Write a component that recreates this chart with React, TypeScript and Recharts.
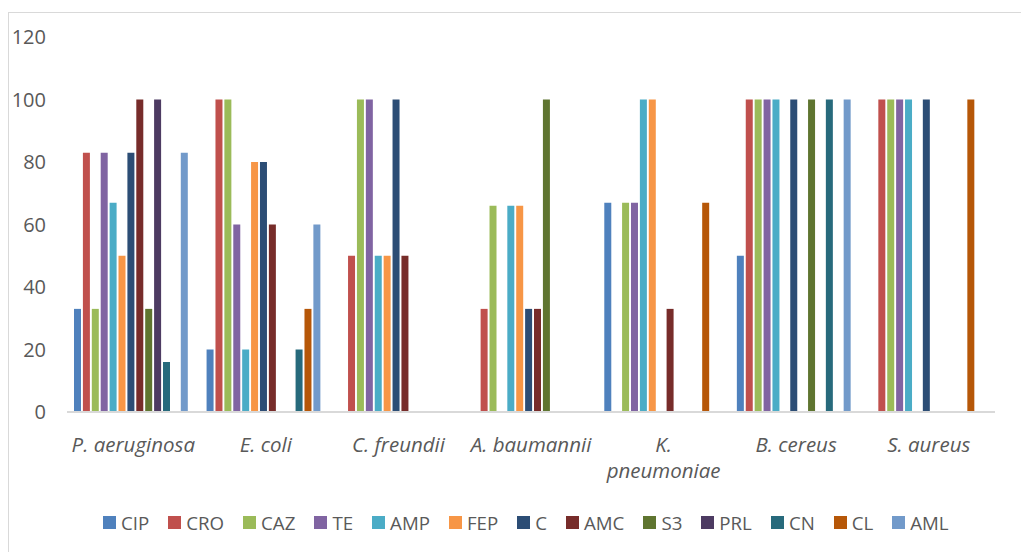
import React from 'react';
import { BarChart, Bar, XAxis, YAxis, Legend } from 'recharts';

const categories = ['P. aeruginosa', 'E. coli', 'C. freundii', 'A. baumannii', 'K. pneumoniae', 'B. cereus', 'S. aureus'];
// how each category label is broken into lines under the axis
const categoryLines = [['P. aeruginosa'], ['E. coli'], ['C. freundii'], ['A. baumannii'], ['K.', 'pneumoniae'], ['B. cereus'], ['S. aureus']];
const yTicks = [0, 20, 40, 60, 80, 100, 120];

const CIP = [33, 20, 0, 0, 67, 50, 0];
const CRO = [83, 100, 50, 33, 0, 100, 100];
const CAZ = [33, 100, 100, 66, 67, 100, 100];
const TE = [83, 60, 100, 0, 67, 100, 100];
const AMP = [67, 20, 50, 66, 100, 100, 100];
const FEP = [50, 80, 50, 66, 100, 0, 0];
const C = [83, 80, 100, 33, 0, 100, 100];
const AMC = [100, 60, 50, 33, 33, 0, 0];
const S3 = [33, 0, 0, 100, 0, 100, 0];
const PRL = [100, 0, 0, 0, 0, 0, 0];
const CN = [16, 20, 0, 0, 0, 100, 0];
const CL = [0, 33, 0, 0, 67, 0, 100];
const AML = [83, 60, 0, 0, 0, 100, 0];

const series = [
  { key: 'CIP', values: CIP, color: '#4F81BD' },
  { key: 'CRO', values: CRO, color: '#C0504D' },
  { key: 'CAZ', values: CAZ, color: '#9BBB59' },
  { key: 'TE', values: TE, color: '#8064A2' },
  { key: 'AMP', values: AMP, color: '#4BACC6' },
  { key: 'FEP', values: FEP, color: '#F79646' },
  { key: 'C', values: C, color: '#2C4D75' },
  { key: 'AMC', values: AMC, color: '#772C2A' },
  { key: 'S3', values: S3, color: '#5F7530' },
  { key: 'PRL', values: PRL, color: '#4D3B62' },
  { key: 'CN', values: CN, color: '#276A7C' },
  { key: 'CL', values: CL, color: '#B65708' },
  { key: 'AML', values: AML, color: '#729ACA' },
];

const data = categories.map((name, i) => {
  const row: any = { name };
  series.forEach((s) => {
    row[s.key] = s.values[i];
  });
  return row;
});

const FONT = '"Open Sans", sans-serif';
const TEXT = '#595959';

const CategoryTick = ({ x, y, payload }: any) => {
  const idx = categories.indexOf(payload.value);
  const lines = idx >= 0 ? categoryLines[idx] : [payload.value];
  return (
    <g transform={`translate(${x},${y})`}>
      {lines.map((line: string, i: number) => (
        <text
          key={i}
          x={0}
          y={32 + i * 26}
          textAnchor="middle"
          fill={TEXT}
          fontSize={20.5}
          fontStyle="italic"
          fontFamily={FONT}
        >
          {line}
        </text>
      ))}
    </g>
  );
};

// legend kept in series order, like the original
const ChartLegend = () => (
  <div style={{ display: 'flex', alignItems: 'center', height: 30, paddingLeft: 103, fontFamily: FONT, fontSize: 18.7, color: TEXT }}>
    {series.map((s) => (
      <div key={s.key} style={{ display: 'flex', alignItems: 'center', marginRight: 19 }}>
        <span style={{ display: 'inline-block', width: 13, height: 13, background: s.color, marginRight: 5 }} />
        <span>{s.key}</span>
      </div>
    ))}
  </div>
);

export default function App() {
  return (
    <div style={{ position: 'absolute', left: 0, top: 0, width: 1021, height: 552, overflow: 'hidden', background: '#fff' }}>
      <div style={{ position: 'absolute', left: 8, top: 12, width: 1100, height: 600, border: '1px solid #d9d9d9' }} />
      <div style={{ position: 'absolute', left: 0, top: 0 }}>
        <BarChart
          width={1021}
          height={552}
          data={data}
          margin={{ top: 37, right: 26, left: 0, bottom: 15 }}
          barCategoryGap={7}
          barGap={1.9}
        >
          <XAxis
            dataKey="name"
            height={95}
            interval={0}
            tickLine={false}
            axisLine={{ stroke: '#d9d9d9', strokeWidth: 2 }}
            tick={<CategoryTick />}
          />
          <YAxis
            width={67}
            domain={[0, 120]}
            ticks={yTicks}
            interval={0}
            axisLine={false}
            tickLine={false}
            tickSize={0}
            tickMargin={21}
            tick={{ fill: TEXT, fontSize: 20, fontFamily: FONT }}
          />
          <Legend verticalAlign="bottom" align="left" content={<ChartLegend />} wrapperStyle={{ left: 0, width: 1021 }} />
          {series.map((s) => (
            <Bar key={s.key} dataKey={s.key} fill={s.color} isAnimationActive={false} />
          ))}
        </BarChart>
      </div>
    </div>
  );
}
